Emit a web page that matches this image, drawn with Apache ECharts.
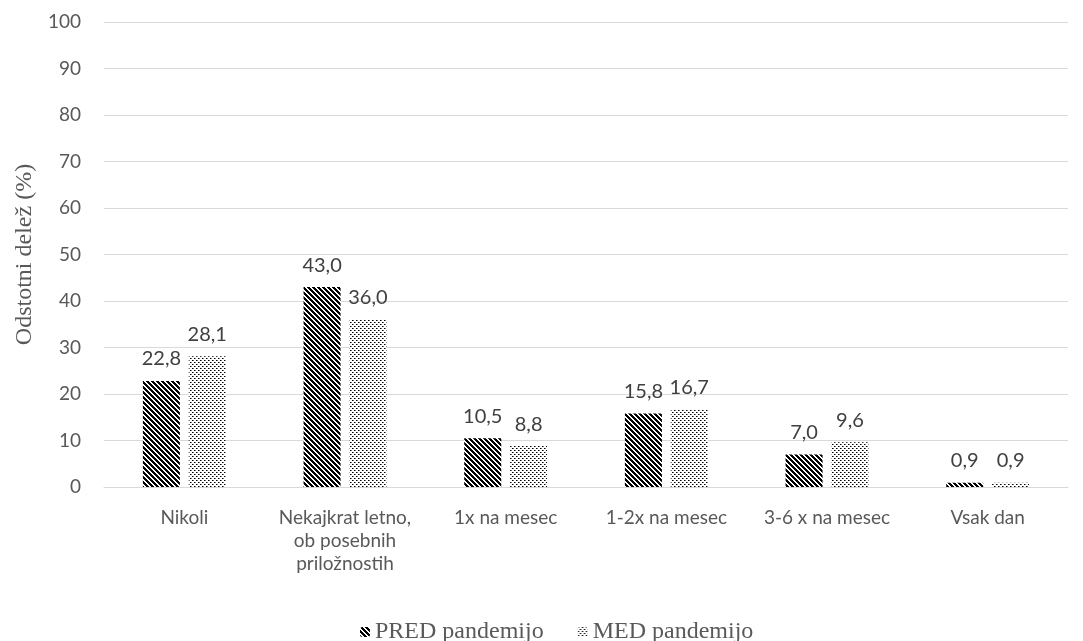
<!DOCTYPE html>
<html>
<head>
<meta charset="utf-8">
<script src="https://cdn.jsdelivr.net/npm/echarts@6/dist/echarts.min.js"></script>
<style>
  html, body { margin: 0; padding: 0; background: #fff; }
  #chart { width: 1083px; height: 641px; }
</style>
</head>
<body>
<div id="chart"></div>
<script>
// Frequency categories and shares (%) before / during the pandemic
const categories = ['Nikoli', 'Nekajkrat letno,\nob posebnih\npriložnostih', '1x na mesec', '1-2x na mesec', '3-6 x na mesec', 'Vsak dan'];
const predValues = [22.8, 43.0, 10.5, 15.8, 7.0, 0.9];
const medValues = [28.1, 36.0, 8.8, 16.7, 9.6, 0.9];
const seriesNames = ['PRED pandemijo', 'MED pandemijo'];
const axisTitle = 'Odstotni delež (%)';

const sansFont = 'Lato, "Open Sans", sans-serif';
const serifFont = '"Liberation Serif", "DejaVu Serif", serif';

// Diagonal hatch fill (\ direction)
function stripeTile() {
  const n = 5;
  const c = document.createElement('canvas');
  c.width = n; c.height = n;
  const ctx = c.getContext('2d');
  const img = ctx.createImageData(n, n);
  for (let y = 0; y < n; y++) {
    for (let x = 0; x < n; x++) {
      const k = (((x - y) % n) + n) % n;
      const v = k < 3 ? 0 : 255;
      const i = (y * n + x) * 4;
      img.data[i] = v; img.data[i + 1] = v; img.data[i + 2] = v; img.data[i + 3] = 255;
    }
  }
  ctx.putImageData(img, 0, 0);
  return c;
}

// Staggered dot fill
function dotTile() {
  const c = document.createElement('canvas');
  c.width = 4; c.height = 4;
  const ctx = c.getContext('2d');
  ctx.fillStyle = '#fff';
  ctx.fillRect(0, 0, 4, 4);
  ctx.fillStyle = '#000';
  ctx.fillRect(0, 0, 1, 1);
  ctx.fillRect(2, 2, 1, 1);
  ctx.fillStyle = '#777';
  ctx.fillRect(1, 0, 1, 1);
  ctx.fillRect(3, 2, 1, 1);
  return c;
}

const stripeFill = { image: stripeTile(), repeat: 'repeat' };
const dotFill = { image: dotTile(), repeat: 'repeat' };

const labelCfg = {
  show: true,
  position: 'top',
  distance: 12,
  color: '#404040',
  fontSize: 20,
  fontFamily: sansFont,
  formatter: p => p.value.toFixed(1).replace('.', ',')
};

const chart = echarts.init(document.getElementById('chart'), null, { renderer: 'canvas' });
chart.setOption({
  animation: false,
  backgroundColor: '#fff',
  grid: { left: 104, right: 15, top: 22, bottom: 154 },
  legend: {
    top: 615,
    left: 355,
    itemWidth: 10,
    itemHeight: 10,
    itemGap: 34,
    textStyle: { color: '#595959', fontSize: 24, fontFamily: serifFont },
    data: seriesNames
  },
  xAxis: {
    type: 'category',
    data: categories,
    axisLine: { lineStyle: { color: '#d9d9d9', width: 1 } },
    axisTick: { show: false },
    axisLabel: {
      color: '#595959',
      fontSize: 19,
      fontFamily: sansFont,
      lineHeight: 23,
      margin: 19,
      interval: 0
    }
  },
  yAxis: {
    type: 'value',
    min: 0,
    max: 100,
    interval: 10,
    name: axisTitle,
    nameLocation: 'middle',
    nameGap: 67,
    nameTextStyle: { color: '#595959', fontSize: 24, fontFamily: serifFont },
    axisLine: { show: false },
    axisTick: { show: false },
    splitLine: { lineStyle: { color: '#d9d9d9', width: 1 } },
    axisLabel: { color: '#595959', fontSize: 19, fontFamily: sansFont, margin: 23 }
  },
  series: [
    {
      name: seriesNames[0],
      type: 'bar',
      data: predValues,
      barWidth: 37,
      barGap: '24%',
      itemStyle: { color: stripeFill },
      label: labelCfg
    },
    {
      name: seriesNames[1],
      type: 'bar',
      data: medValues,
      barWidth: 37,
      barGap: '24%',
      itemStyle: { color: dotFill },
      label: labelCfg
    }
  ]
});
</script>
</body>
</html>
